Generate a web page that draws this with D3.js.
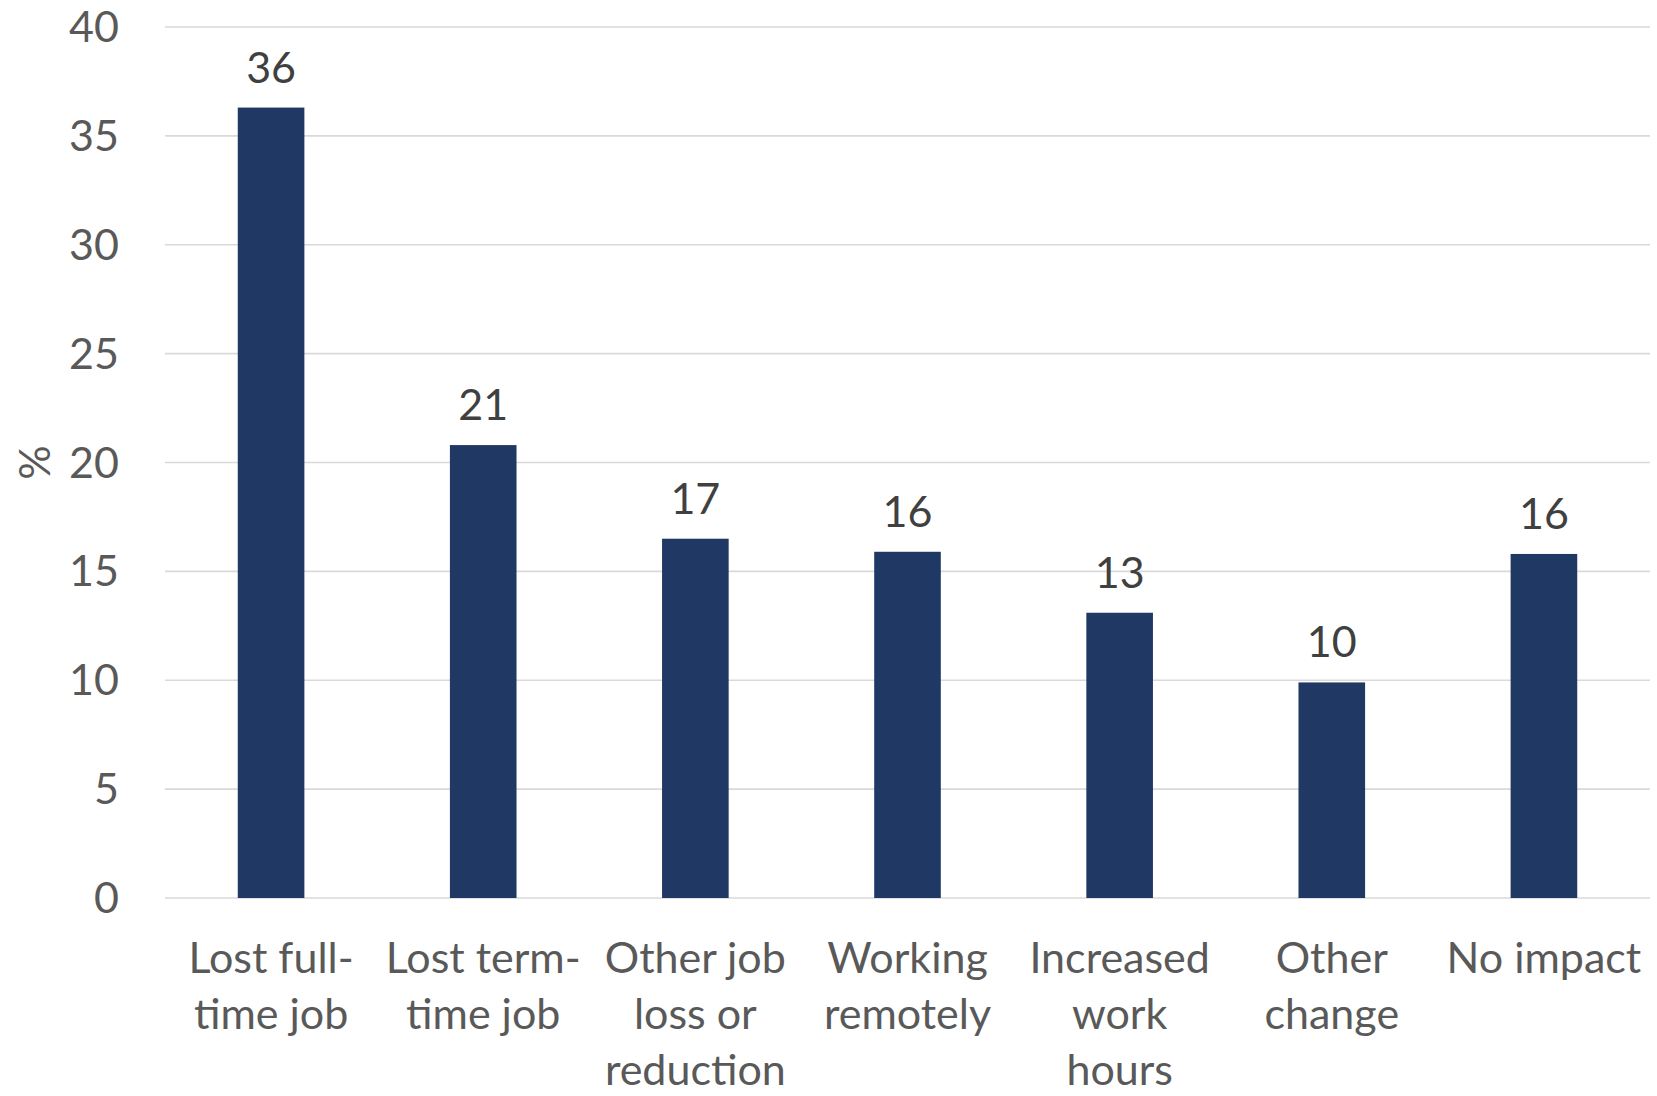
<!DOCTYPE html>
<html>
<head>
<meta charset="utf-8">
<script src="https://cdn.jsdelivr.net/npm/d3@7"></script>
<style>
  html, body { margin: 0; padding: 0; background: #fff; }
  svg { display: block; }
  text { font-family: Lato, "Open Sans", sans-serif; }
</style>
</head>
<body>
<svg id="chart" width="1657" height="1096"></svg>
<script>
// Impact on employment, share of respondents (%)
const categories = [
  "Lost full-time job",
  "Lost term-time job",
  "Other job loss or reduction",
  "Working remotely",
  "Increased work hours",
  "Other change",
  "No impact"
];
const categoryLines = [
  ["Lost full-", "time job"],
  ["Lost term-", "time job"],
  ["Other job", "loss or", "reduction"],
  ["Working", "remotely"],
  ["Increased", "work", "hours"],
  ["Other", "change"],
  ["No impact"]
];
const values = [36.3, 20.8, 16.5, 15.9, 13.1, 9.9, 15.8];
const yTicks = [0, 5, 10, 15, 20, 25, 30, 35, 40];
const yTitle = "%";

const svg = d3.select("#chart");
const plot = { left: 165, right: 1650, top: 27, bottom: 898 };
const fontSize = 43;
const lineGap = 56;

const x = d3.scaleBand()
  .domain(categories)
  .range([plot.left, plot.right])
  .paddingInner(0.686)
  .paddingOuter(0.343);

const y = d3.scaleLinear()
  .domain([0, 40])
  .range([plot.bottom, plot.top]);

// horizontal gridlines
svg.append("g")
  .selectAll("line")
  .data(yTicks)
  .join("line")
  .attr("x1", plot.left)
  .attr("x2", plot.right)
  .attr("y1", d => y(d))
  .attr("y2", d => y(d))
  .attr("stroke", "#d9d9d9")
  .attr("stroke-width", 1.6);

// y tick labels
svg.append("g")
  .selectAll("text")
  .data(yTicks)
  .join("text")
  .attr("x", 119)
  .attr("y", d => y(d) + 15)
  .attr("text-anchor", "end")
  .attr("fill", "#595959")
  .attr("font-size", fontSize)
  .text(d => d);

// y axis title
svg.append("text")
  .attr("transform", `translate(${35 + 15},${(plot.top + plot.bottom) / 2}) rotate(-90)`)
  .attr("text-anchor", "middle")
  .attr("fill", "#595959")
  .attr("font-size", fontSize)
  .text(yTitle);

// bars
svg.append("g")
  .selectAll("rect")
  .data(values)
  .join("rect")
  .attr("x", (d, i) => x(categories[i]))
  .attr("width", x.bandwidth())
  .attr("y", d => y(d))
  .attr("height", d => y(0) - y(d))
  .attr("fill", "#203864");

// value labels
svg.append("g")
  .selectAll("text")
  .data(values)
  .join("text")
  .attr("x", (d, i) => x(categories[i]) + x.bandwidth() / 2)
  .attr("y", d => y(d) - 25)
  .attr("text-anchor", "middle")
  .attr("fill", "#404040")
  .attr("font-size", fontSize)
  .text(d => d3.format(".0f")(d));

// category labels (wrapped)
const cat = svg.append("g")
  .selectAll("text")
  .data(categories)
  .join("text")
  .attr("x", d => x(d) + x.bandwidth() / 2)
  .attr("y", 973)
  .attr("text-anchor", "middle")
  .attr("fill", "#595959")
  .attr("font-size", fontSize);

cat.selectAll("tspan")
  .data((d, i) => categoryLines[i])
  .join("tspan")
  .attr("x", function () { return d3.select(this.parentNode).attr("x"); })
  .attr("dy", (d, j) => j === 0 ? 0 : lineGap)
  .text(d => d);
</script>
</body>
</html>
